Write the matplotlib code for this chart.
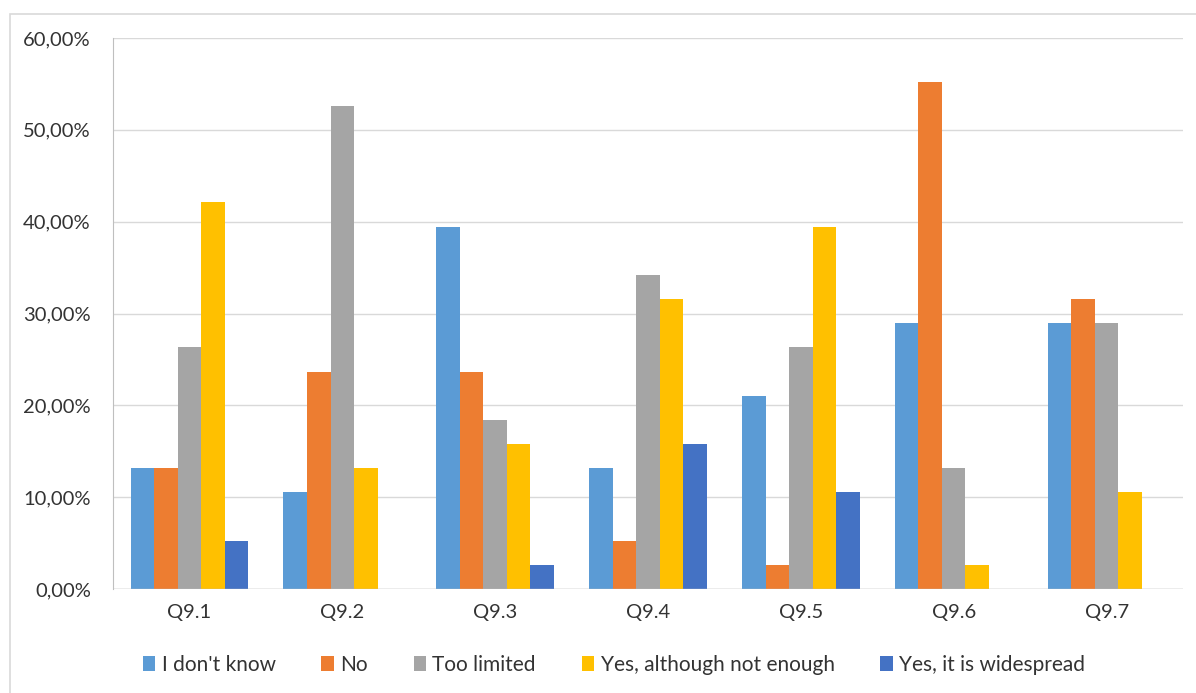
import matplotlib
matplotlib.use("Agg")
import matplotlib.pyplot as plt
import numpy as np
from matplotlib.patches import Rectangle
from matplotlib.ticker import FuncFormatter

categories = ["Q9.1", "Q9.2", "Q9.3", "Q9.4", "Q9.5", "Q9.6", "Q9.7"]
series_names = ["I don't know", "No", "Too limited", "Yes, although not enough", "Yes, it is widespread"]
dont_know = [13.16, 10.53, 39.47, 13.16, 21.05, 28.95, 28.95]
no = [13.16, 23.68, 23.68, 5.26, 2.63, 55.26, 31.58]
too_limited = [26.32, 52.63, 18.42, 34.21, 26.32, 13.16, 28.95]
yes_not_enough = [42.11, 13.16, 15.79, 31.58, 39.47, 2.63, 10.53]
yes_widespread = [5.26, 0.0, 2.63, 15.79, 10.53, 0.0, 0.0]
colors = ["#5B9BD5", "#ED7D31", "#A5A5A5", "#FFC000", "#4472C4"]

plt.rcParams['font.family'] = ['Lato', 'DejaVu Sans']

fig = plt.figure(figsize=(11.96, 6.93), dpi=100)
ax = fig.add_axes([113/1196, 1-589/693, (1183-113)/1196, (589-38)/693])

# chart border
fig.patches.append(Rectangle((10/1196, -0.01), 1.2, 1-14/693+0.01, transform=fig.transFigure,
                             fill=False, edgecolor="#D9D9D9", linewidth=1.2))

data = [dont_know, no, too_limited, yes_not_enough, yes_widespread]
x = np.arange(len(categories))
bw = 0.154
for i, (vals, name, c) in enumerate(zip(data, series_names, colors)):
    ax.bar(x + (i - 2) * bw, vals, width=bw, color=c, label=name, zorder=2)

ax.set_xlim(-0.5, len(categories) - 0.5)
ax.set_ylim(0, 60)
ax.set_yticks(np.arange(0, 61, 10))
ax.yaxis.set_major_formatter(FuncFormatter(lambda v, p: f"{v:.2f}%".replace(".", ",")))
ax.set_xticks(x)
ax.set_xticklabels(categories)
ax.grid(axis="y", color="#D9D9D9", linewidth=1, zorder=0)
for s in ["top", "right", "bottom"]:
    ax.spines[s].set_visible(False)
ax.spines["left"].set_color("#BFBFBF")
ax.axhline(0, color="#BFBFBF", linewidth=1, zorder=3)
ax.tick_params(axis="both", length=0, labelsize=14.5, colors="#333333", pad=11)
ax.tick_params(axis="y", pad=16)

leg = fig.legend(loc="center", bbox_to_anchor=(614/1196, 1-665/693), ncol=5, frameon=False,
                 fontsize=15, handlelength=0.6, handleheight=0.7, handletextpad=0.3,
                 columnspacing=2.2)
for t in leg.get_texts():
    t.set_color("#333333")

fig.savefig("out.png", dpi=100)
